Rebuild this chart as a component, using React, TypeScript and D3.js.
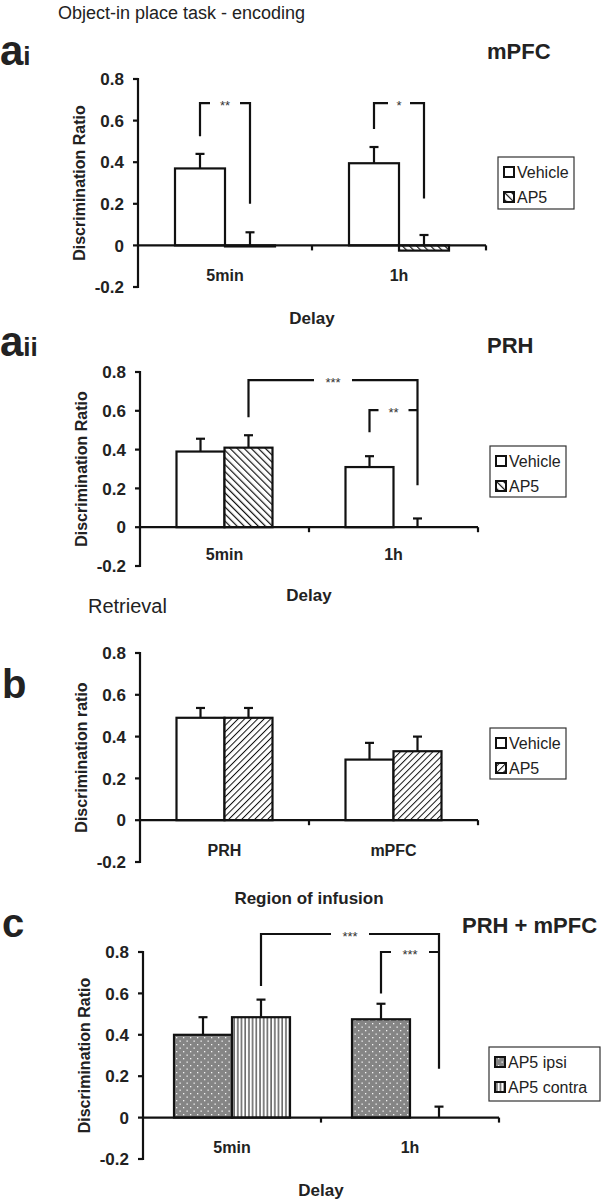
import React from "react";
import * as d3 from "d3";

// ---------- DATA ----------
const delays = ["5min", "1h"];
const regions = ["PRH", "mPFC"];
const yTicks = [-0.2, 0, 0.2, 0.4, 0.6, 0.8];

// ai: mPFC encoding
const aiVehicle = [0.37, 0.395];
const aiVehicleErr = [0.07, 0.078];
const aiAP5 = [-0.005, -0.025];
const aiAP5Err = [0.068, 0.075];

// aii: PRH encoding
const aiiVehicle = [0.39, 0.31];
const aiiVehicleErr = [0.066, 0.056];
const aiiAP5 = [0.41, 0.0];
const aiiAP5Err = [0.064, 0.045];

// b: retrieval
const bVehicle = [0.49, 0.29];
const bVehicleErr = [0.047, 0.08];
const bAP5 = [0.49, 0.33];
const bAP5Err = [0.047, 0.07];

// c: PRH + mPFC
const cIpsi = [0.40, 0.475];
const cIpsiErr = [0.085, 0.075];
const cContra = [0.485, 0.0];
const cContraErr = [0.085, 0.053];

// significance brackets: [fromGroup, fromSeries, toGroup, toSeries, top, leftLow, rightLow, label]
const aiBrackets = [
  [0, 0, 0, 1, 0.684, 0.525, 0.2, "**"],
  [1, 0, 1, 1, 0.684, 0.56, 0.225, "*"],
];
const aiiBrackets = [
  [0, 1, 1, 1, 0.758, 0.567, 0.216, "***"],
  [1, 0, 1, 1, 0.603, 0.49, 0.603, "**"],
];
const cBrackets = [
  [0, 1, 1, 1, 0.887, 0.636, 0.236, "***"],
  [1, 0, 1, 1, 0.8, 0.6, 0.8, "***"],
];

const FONT = "'Liberation Sans', Arial, Helvetica, sans-serif";

type Panel = {
  x0: number; x1: number; yTop: number; yBot: number;
  cats: string[];
  s1: number[]; e1: number[]; s2: number[]; e2: number[];
  f1: string; f2: string; barW: number;
  ylabel: string; xlabel: string; xlabelDy: number;
  brackets: any[];
};

const panels: Panel[] = [
  { x0: 138, x1: 486, yTop: 79, yBot: 287, cats: delays, s1: aiVehicle, e1: aiVehicleErr, s2: aiAP5, e2: aiAP5Err,
    f1: "white", f2: "url(#hatchBack)", barW: 50, ylabel: "Discrimination Ratio", xlabel: "Delay", xlabelDy: 37, brackets: aiBrackets },
  { x0: 140, x1: 478, yTop: 372, yBot: 566, cats: delays, s1: aiiVehicle, e1: aiiVehicleErr, s2: aiiAP5, e2: aiiAP5Err,
    f1: "white", f2: "url(#hatchBack)", barW: 48, ylabel: "Discrimination Ratio", xlabel: "Delay", xlabelDy: 35, brackets: aiiBrackets },
  { x0: 140, x1: 478, yTop: 653, yBot: 862, cats: regions, s1: bVehicle, e1: bVehicleErr, s2: bAP5, e2: bAP5Err,
    f1: "white", f2: "url(#hatchFwd)", barW: 48, ylabel: "Discrimination ratio", xlabel: "Region of infusion", xlabelDy: 42, brackets: [] },
  { x0: 143, x1: 499, yTop: 952, yBot: 1159, cats: delays, s1: cIpsi, e1: cIpsiErr, s2: cContra, e2: cContraErr,
    f1: "url(#dots)", f2: "url(#vlines)", barW: 58, ylabel: "Discrimination Ratio", xlabel: "Delay", xlabelDy: 37, brackets: cBrackets },
];

function ChartPanel({ p }: { p: Panel }) {
  const y = d3.scaleLinear().domain([-0.2, 0.8]).range([p.yBot, p.yTop]);
  const x = d3.scaleBand().domain(p.cats).range([p.x0, p.x1]);
  const bw = x.bandwidth();
  const barX = (g: number, s: number) => (x(p.cats[g]) as number) + bw / 2 - p.barW + s * p.barW;
  const barC = (g: number, s: number) => barX(g, s) + p.barW / 2;
  const series = [
    { v: p.s1, e: p.e1, f: p.f1 },
    { v: p.s2, e: p.e2, f: p.f2 },
  ];
  const y0 = y(0);
  return (
    <g>
      {series.map((s, si) =>
        s.v.map((v, gi) =>
          v === 0 ? null : (
            <rect key={`b${si}${gi}`} x={barX(gi, si)} y={Math.min(y(v), y0)} width={p.barW}
              height={Math.abs(y(v) - y0)} fill={s.f} stroke="#111" strokeWidth={2.2} />
          )
        )
      )}
      {series.map((s, si) =>
        s.v.map((v, gi) => {
          const cx = barC(gi, si);
          const top = y(Math.max(v, 0) + s.e[gi] + Math.min(v, 0));
          const base = y(Math.max(v, 0));
          return (
            <g key={`e${si}${gi}`} stroke="#111" strokeWidth={2.2}>
              <line x1={cx} x2={cx} y1={base} y2={top} />
              <line x1={cx - 4.5} x2={cx + 4.5} y1={top} y2={top} />
            </g>
          );
        })
      )}
      <g stroke="#111" strokeWidth={2.2}>
        <line x1={p.x0} x2={p.x0} y1={y(-0.2) + 1} y2={y(0.8) - 1} />
        {yTicks.map((t) => (
          <line key={t} x1={p.x0 - 5} x2={p.x0} y1={y(t)} y2={y(t)} />
        ))}
        <line x1={p.x0} x2={p.x1} y1={y0} y2={y0} />
        {p.cats.map((c) => (
          <line key={c} x1={(x(c) as number) + bw} x2={(x(c) as number) + bw} y1={y0} y2={y0 + 5} />
        ))}
      </g>
      {yTicks.map((t) => (
        <text key={t} x={p.x0 - 14} y={y(t)} dy="0.36em" textAnchor="end" fontSize={17} fontWeight="bold" fill="#222">
          {String(t)}
        </text>
      ))}
      {p.cats.map((c) => (
        <text key={c} x={(x(c) as number) + bw / 2} y={y(-0.2) - 6} textAnchor="middle" fontSize={16} fontWeight="bold" fill="#222">
          {c}
        </text>
      ))}
      <text x={(p.x0 + p.x1) / 2} y={y(-0.2) + p.xlabelDy} textAnchor="middle" fontSize={17} fontWeight="bold" fill="#222">
        {p.xlabel}
      </text>
      <text transform={`translate(${p.x0 - 59},${(p.yTop + p.yBot) / 2}) rotate(-90)`} textAnchor="middle"
        fontSize={16} fontWeight="bold" fill="#222" dominantBaseline="central">
        {p.ylabel}
      </text>
      {p.brackets.map((b, i) => {
        const [g1, s1, g2, s2, top, lLow, rLow, label] = b;
        const xl = barC(g1, s1);
        const xr = barC(g2, s2);
        const yt = y(top);
        const mid = (xl + xr) / 2;
        const half = (label as string).length * 4 + 7;
        return (
          <g key={`k${i}`}>
            <path d={`M${xl},${y(lLow)}V${yt}H${mid - half}M${mid + half},${yt}H${xr}V${y(rLow)}`}
              fill="none" stroke="#111" strokeWidth={2.2} />
            <text x={mid} y={yt + 7} textAnchor="middle" fontSize={13} fill="#333">{label}</text>
          </g>
        );
      })}
    </g>
  );
}

function Legend({ x, y, w, h, items }: { x: number; y: number; w: number; h: number; items: [string, string][] }) {
  return (
    <g>
      <rect x={x} y={y} width={w} height={h} fill="white" stroke="#333" strokeWidth={1.2} />
      {items.map(([fill, label], i) => {
        const cy = y + 15 + i * 25;
        return (
          <g key={label}>
            <rect x={x + 6} y={cy - 5} width={10} height={10} fill={fill} stroke="#111" strokeWidth={2} />
            <text x={x + 19} y={cy} dy="0.36em" fontSize={16} fill="#222">{label}</text>
          </g>
        );
      })}
    </g>
  );
}

export default function App() {
  return (
    <div style={{ position: "absolute", left: 0, top: 0 }}>
      <svg width={601} height={1199} style={{ display: "block", background: "white" }} fontFamily={FONT}>
        <defs>
          <pattern id="hatchBack" width={5} height={5} patternUnits="userSpaceOnUse" patternTransform="rotate(-45)">
            <rect width={5} height={5} fill="white" />
            <line x1={0} y1={0} x2={0} y2={5} stroke="#111" strokeWidth={2.4} />
          </pattern>
          <pattern id="hatchFwd" width={4.6} height={4.6} patternUnits="userSpaceOnUse" patternTransform="rotate(45)">
            <rect width={4.6} height={4.6} fill="white" />
            <line x1={0} y1={0} x2={0} y2={4.6} stroke="#111" strokeWidth={2} />
          </pattern>
          <pattern id="vlines" width={3.7} height={10} patternUnits="userSpaceOnUse">
            <rect width={3.7} height={10} fill="white" />
            <line x1={1} y1={0} x2={1} y2={10} stroke="#222" strokeWidth={1.1} />
          </pattern>
          <pattern id="dots" width={7} height={7} patternUnits="userSpaceOnUse">
            <rect width={7} height={7} fill="#858585" />
            <rect x={1} y={1} width={1.3} height={1.3} fill="#f4f4f4" />
            <rect x={4.5} y={4.5} width={1.3} height={1.3} fill="#f4f4f4" />
          </pattern>
        </defs>

        <text x={58} y={19} fontSize={18} fill="#222">Object-in place task - encoding</text>
        <text x={0} y={65} fontSize={42} fontWeight="bold" fill="#222">a<tspan fontSize={26}>i</tspan></text>
        <text x={487} y={59} fontSize={22} fontWeight="bold" fill="#222">mPFC</text>

        <text x={0} y={356} fontSize={42} fontWeight="bold" fill="#222">a<tspan fontSize={26}>ii</tspan></text>
        <text x={487} y={353} fontSize={22} fontWeight="bold" fill="#222">PRH</text>

        <text x={88} y={613} fontSize={20} fill="#222">Retrieval</text>
        <text x={2} y={698} fontSize={40} fontWeight="bold" fill="#222">b</text>

        <text x={2} y={937} fontSize={40} fontWeight="bold" fill="#222">c</text>
        <text x={462} y={933} fontSize={22} fontWeight="bold" fill="#222">PRH + mPFC</text>

        {panels.map((p, i) => (
          <ChartPanel key={i} p={p} />
        ))}

        <Legend x={498} y={157} w={76} h={52} items={[["white", "Vehicle"], ["url(#hatchBack)", "AP5"]]} />
        <Legend x={490} y={446} w={76} h={51} items={[["white", "Vehicle"], ["url(#hatchBack)", "AP5"]]} />
        <Legend x={490} y={728} w={76} h={51} items={[["white", "Vehicle"], ["url(#hatchFwd)", "AP5"]]} />
        <Legend x={489} y={1047} w={111} h={54} items={[["url(#dots)", "AP5 ipsi"], ["url(#vlines)", "AP5 contra"]]} />
      </svg>
    </div>
  );
}
